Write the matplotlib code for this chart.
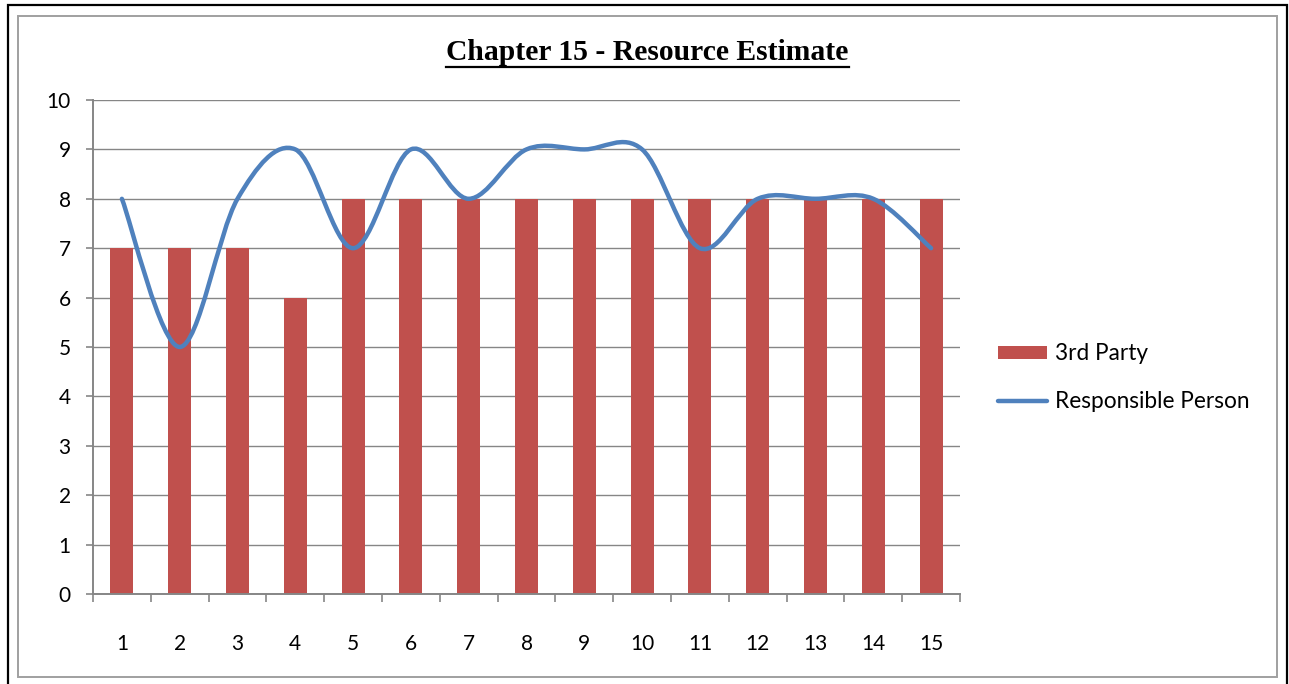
import matplotlib
matplotlib.use("Agg")
import matplotlib.pyplot as plt
from matplotlib.path import Path
from matplotlib.patches import PathPatch, Rectangle, Patch
from matplotlib.lines import Line2D
import numpy as np

categories = [str(i) for i in range(1, 16)]
third_party = [7, 7, 7, 6, 8, 8, 8, 8, 8, 8, 8, 8, 8, 8, 8]
responsible = [8, 5, 8, 9, 7, 9, 8, 9, 9, 9, 7, 8, 8, 8, 7]
title = "Chapter 15 - Resource Estimate"

BAR = "#C0504D"
LINE = "#4F81BD"
GRID = "#868686"
FONT = "Lato"

W, H = 1289, 684
fig = plt.figure(figsize=(W / 100, H / 100), dpi=100)

# Figure borders
fig.patches.append(Rectangle((8 / W, -0.01), (1287 - 8) / W, 1 - 5 / H + 0.01,
                             transform=fig.transFigure, fill=False,
                             edgecolor="black", linewidth=1.6))
fig.patches.append(Rectangle((18 / W, 1 - 677 / H), (1277 - 18) / W, (677 - 16) / H,
                             transform=fig.transFigure, fill=False,
                             edgecolor="#A0A0A0", linewidth=1.4))

ax = fig.add_axes([93 / W, 1 - 594 / H, (960 - 93) / W, (594 - 100) / H])
x = np.arange(1, len(categories) + 1)
ax.bar(x, third_party, width=0.4, color=BAR, zorder=2)

# Smoothed line (Catmull-Rom style Bezier segments)
pts = np.column_stack([x, responsible]).astype(float)
verts = [tuple(pts[0])]
codes = [Path.MOVETO]
n = len(pts)
for i in range(n - 1):
    p0 = pts[i - 1] if i > 0 else pts[i]
    p1 = pts[i]
    p2 = pts[i + 1]
    p3 = pts[i + 2] if i + 2 < n else pts[i + 1]
    c1 = p1 + (p2 - p0) / 6.0
    c2 = p2 - (p3 - p1) / 6.0
    verts += [tuple(c1), tuple(c2), tuple(p2)]
    codes += [Path.CURVE4] * 3
ax.add_patch(PathPatch(Path(verts, codes), fill=False, edgecolor=LINE,
                       linewidth=3.2, capstyle="round", joinstyle="round", zorder=3))

ax.set_xlim(0.5, len(categories) + 0.5)
ax.set_ylim(0, 10)
ax.set_yticks(range(0, 11))
ax.yaxis.grid(True, color=GRID, linewidth=1.0, zorder=0)
ax.set_axisbelow(True)
for s in ["top", "right"]:
    ax.spines[s].set_visible(False)
for s in ["left", "bottom"]:
    ax.spines[s].set_color(GRID)
    ax.spines[s].set_linewidth(1.4)

ax.set_xticks(np.arange(0.5, len(categories) + 1, 1.0))
ax.set_xticklabels([])
ax.set_xticks(x, minor=True)
ax.set_xticklabels(categories, minor=True, fontsize=15, fontname=FONT)
ax.tick_params(axis="x", which="major", length=6, color=GRID, width=1.2)
ax.tick_params(axis="x", which="minor", length=0, pad=29)
ax.tick_params(axis="y", length=5, color=GRID, width=1.2, pad=11, labelsize=15)
for lab in ax.get_yticklabels():
    lab.set_fontname(FONT)

handles = [Patch(facecolor=BAR, edgecolor="none"),
           Line2D([0], [0], color=LINE, linewidth=3.2, solid_capstyle="round")]
leg = fig.legend(handles, ["3rd Party", "Responsible Person"],
                 loc="center left", bbox_to_anchor=(978 / W, 1 - 377.5 / H),
                 frameon=False, prop={"family": FONT, "size": 16.3},
                 handlelength=2.15, handleheight=0.52, labelspacing=1.18,
                 handletextpad=0.33)

t = fig.text(647.5 / W, 1 - 60 / H, title, ha="center", va="baseline",
             fontsize=21.3, fontweight="bold", fontfamily="Liberation Serif")
fig.canvas.draw()
bb = t.get_window_extent()
fig.add_artist(Line2D([bb.x0 / W, bb.x1 / W], [(H - 66.5) / H] * 2,
                      transform=fig.transFigure, color="black", linewidth=1.6))

fig.savefig("out.png", dpi=100)
